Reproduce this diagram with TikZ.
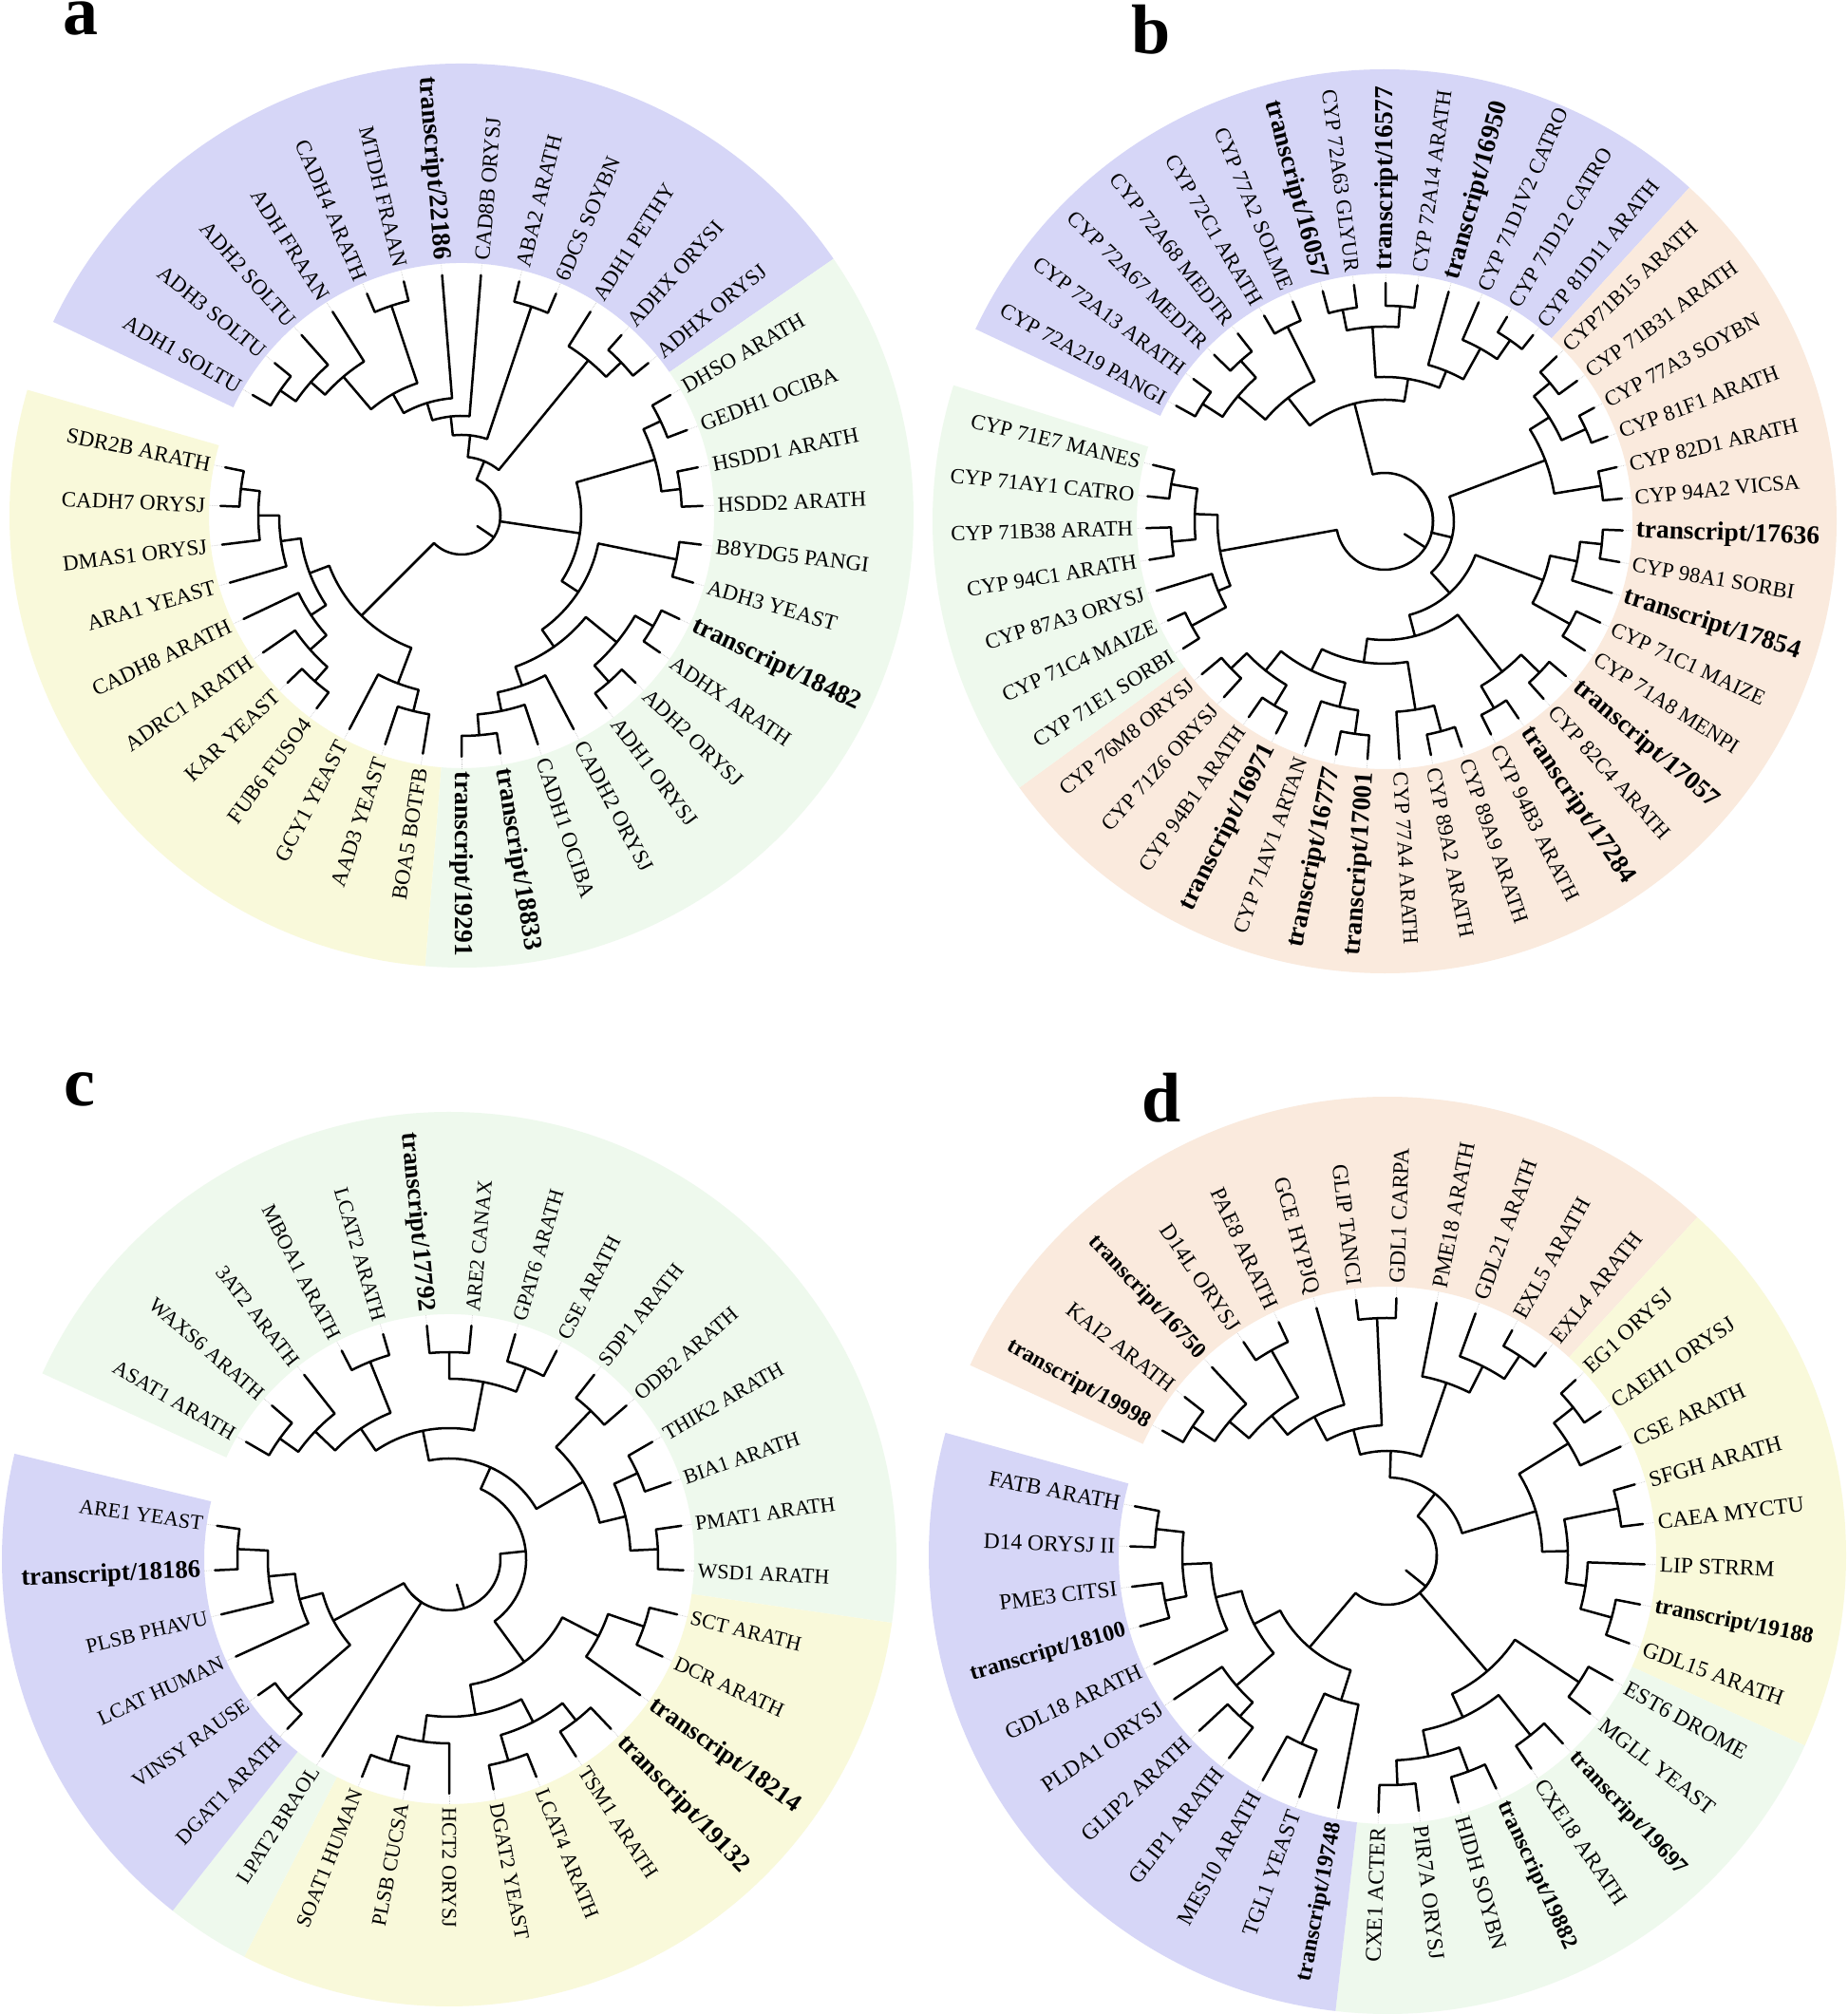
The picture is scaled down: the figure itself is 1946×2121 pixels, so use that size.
\documentclass[tikz,border=0pt]{standalone}
\usepackage{fontspec}
\setmainfont{Liberation Serif}
\usetikzlibrary{calc}

\definecolor{purpband}{RGB}{214,214,247}
\definecolor{greenband}{RGB}{238,249,237}
\definecolor{yellowband}{RGB}{249,249,218}
\definecolor{peachband}{RGB}{250,234,221}

\tikzset{
  branch/.style={line width=2.5pt, line cap=round, line join=round, black},
  conn/.style={gray!40, line width=0.7pt, densely dotted},
  lab/.style={inner sep=0pt, outer sep=0pt, font=\fontsize{\rsz}{\rsz}\selectfont},
  letter/.style={anchor=base, inner sep=0pt, text depth=0pt, font=\fontsize{74}{80}\selectfont\bfseries},
  lowletter/.style={letter, text height=0.48em}
}

\newcommand\bt{\fontsize{\bsz}{\bsz}\selectfont\bfseries}

% leaf: id, slot, text
\newcommand\lf[3]{%
  \pgfmathsetmacro\lfang{\thz-#2*\dth}%
  \expandafter\xdef\csname A@#1\endcsname{\lfang}%
  \expandafter\xdef\csname R@#1\endcsname{\rtip}%
  \draw[conn] (\lfang:\rtip) -- (\lfang:\rin);%
  \pgfmathparse{cos(\lfang)<-0.001 ? 1 : 0}%
  \ifdim\pgfmathresult pt>0.5pt
    \pgfmathsetmacro\lfrot{\lfang-180}%
    \node[lab, rotate=\lfrot, anchor=east] (#1) at (\lfang:\rlab) {#3};%
  \else
    \node[lab, rotate=\lfang, anchor=west] (#1) at (\lfang:\rlab) {#3};%
  \fi}

% inner node: id, radius, child, child
\newcommand\nd[4]{%
  \edef\ndta{\csname A@#3\endcsname}\edef\ndra{\csname R@#3\endcsname}%
  \edef\ndtb{\csname A@#4\endcsname}\edef\ndrb{\csname R@#4\endcsname}%
  \draw[branch] (\ndta:\ndra) -- (\ndta:#2) arc[start angle=\ndta, end angle=\ndtb, radius=#2pt] -- (\ndtb:\ndrb);%
  \pgfmathsetmacro\ndtm{(\ndta+\ndtb)/2}%
  \coordinate (#1) at (\ndtm:#2);%
  \expandafter\xdef\csname A@#1\endcsname{\ndtm}%
  \expandafter\xdef\csname R@#1\endcsname{#2}}

% root stub between two outer children
\newcommand\stub[4]{%
  \pgfmathsetmacro\ndtm{(\csname A@#1\endcsname+\csname A@#2\endcsname)/2}%
  \draw[branch] (\ndtm:#3) -- (\ndtm:#4);}

% coloured label band: colour, first slot, last slot
\newcommand\band[3]{%
  \pgfmathsetmacro\bda{\thz-(#2-0.5)*\dth}%
  \pgfmathsetmacro\bdb{\thz-(#3+0.5)*\dth}%
  \fill[#1] (\bda:\rin) arc[start angle=\bda, end angle=\bdb, radius=\rin pt] -- (\bdb:\rout) arc[start angle=\bdb, end angle=\bda, radius=\rout pt] -- cycle;}

\begin{document}
\begin{tikzpicture}[x=1pt, y=1pt]
  \fill[white] (0,0) rectangle (1946,2121);
  \useasboundingbox (0,0) rectangle (1946,2121);

  \node[lowletter] (la) at (85,2084) {a};
  \node[letter] (lb) at (1212,2064) {b};
  \node[lowletter] (lc) at (84,956) {c};
  \node[letter] (ld) at (1223,939) {d};

  % ---------------- a ----------------
  \begin{scope}[shift={(486,1578)}]
    \def\thz{150}\def\dth{9.230769}\def\rtip{254}\def\rlab{270}\def\rin{266}\def\rout{476}
    \def\rsz{23}\def\bsz{27.5}
    \band{purpband}{0}{12}
    \band{greenband}{13}{26}
    \band{yellowband}{27}{37}
    \lf{a0}{0}{ADH1 SOLTU}
    \lf{a1}{1}{ADH3 SOLTU}
    \lf{a2}{2}{ADH2 SOLTU}
    \lf{a3}{3}{ADH FRAAN}
    \lf{a4}{4}{CADH4 ARATH}
    \lf{a5}{5}{MTDH FRAAN}
    \lf{a6}{6}{\bt transcript/22186}
    \lf{a7}{7}{CAD8B ORYSJ}
    \lf{a8}{8}{ABA2 ARATH}
    \lf{a9}{9}{6DCS SOYBN}
    \lf{a10}{10}{ADH1 PETHY}
    \lf{a11}{11}{ADHX ORYSI}
    \lf{a12}{12}{ADHX ORYSJ}
    \lf{a13}{13}{DHSO ARATH}
    \lf{a14}{14}{GEDH1 OCIBA}
    \lf{a15}{15}{HSDD1 ARATH}
    \lf{a16}{16}{HSDD2 ARATH}
    \lf{a17}{17}{B8YDG5 PANGI}
    \lf{a18}{18}{ADH3 YEAST}
    \lf{a19}{19}{\bt transcript/18482}
    \lf{a20}{20}{ADHX ARATH}
    \lf{a21}{21}{ADH2 ORYSJ}
    \lf{a22}{22}{ADH1 ORYSJ}
    \lf{a23}{23}{CADH2 ORYSJ}
    \lf{a24}{24}{CADH1 OCIBA}
    \lf{a25}{25}{\bt transcript/18833}
    \lf{a26}{26}{\bt transcript/19291}
    \lf{a27}{27}{BOA5 BOTFB}
    \lf{a28}{28}{AAD3 YEAST}
    \lf{a29}{29}{GCY1 YEAST}
    \lf{a30}{30}{FUB6 FUSO4}
    \lf{a31}{31}{KAR YEAST}
    \lf{a32}{32}{ADRC1 ARATH}
    \lf{a33}{33}{CADH8 ARATH}
    \lf{a34}{34}{ARA1 YEAST}
    \lf{a35}{35}{DMAS1 ORYSJ}
    \lf{a36}{36}{CADH7 ORYSJ}
    \lf{a37}{37}{SDR2B ARATH}
    \nd{a-1}{232}{a0}{a1}
    \nd{a-2}{212}{a-1}{a2}
    \nd{a-3}{192}{a-2}{a3}
    \nd{a-4}{233}{a4}{a5}
    \nd{a-5}{147}{a-3}{a-4}
    \nd{a-6}{124}{a-5}{a6}
    \nd{a-7}{105}{a-6}{a7}
    \nd{a-8}{232}{a8}{a9}
    \nd{a-9}{85}{a-7}{a-8}
    \nd{a-10}{233}{a11}{a12}
    \nd{a-11}{211}{a10}{a-10}
    \nd{a-12}{62}{a-9}{a-11}
    \nd{a-13}{232}{a13}{a14}
    \nd{a-14}{232}{a15}{a16}
    \nd{a-15}{212}{a-13}{a-14}
    \nd{a-16}{231}{a17}{a18}
    \nd{a-17}{233}{a19}{a20}
    \nd{a-18}{234}{a21}{a22}
    \nd{a-19}{211}{a-17}{a-18}
    \nd{a-20}{232}{a25}{a26}
    \nd{a-21}{210}{a24}{a-20}
    \nd{a-22}{190}{a23}{a-21}
    \nd{a-23}{169}{a-19}{a-22}
    \nd{a-24}{147}{a-16}{a-23}
    \nd{a-25}{126}{a-15}{a-24}
    \nd{a-26}{234}{a36}{a37}
    \nd{a-27}{214}{a35}{a-26}
    \nd{a-28}{192}{a34}{a-27}
    \nd{a-30}{233}{a30}{a31}
    \nd{a-31}{213}{a32}{a-30}
    \nd{a-29}{190}{a33}{a-31}
    \nd{a-32}{171}{a-28}{a-29}
    \nd{a-33}{212}{a27}{a28}
    \nd{a-34}{189}{a29}{a-33}
    \nd{a-35}{149}{a-34}{a-32}
    \nd{a-36}{41}{a-12}{a-25}
    \nd{a-37}{41}{a-36}{a-35}
    \stub{a-12}{a-35}{20}{41}
  \end{scope}

  % ---------------- b ----------------
  \begin{scope}[shift={(1458,1572)}]
    \def\thz{151}\def\dth{7.659574}\def\rtip{251}\def\rlab{265}\def\rin{261}\def\rout{476}
    \def\rsz{22.7}\def\bsz{27.4}
    \band{purpband}{0}{13}
    \band{peachband}{14}{38}
    \band{greenband}{39}{45}
    \lf{b0}{0}{CYP 72A219 PANGI}
    \lf{b1}{1}{CYP 72A13 ARATH}
    \lf{b2}{2}{CYP 72A67 MEDTR}
    \lf{b3}{3}{CYP 72A68 MEDTR}
    \lf{b4}{4}{CYP 72C1 ARATH}
    \lf{b5}{5}{CYP 77A2 SOLME}
    \lf{b6}{6}{\bt transcript/16057}
    \lf{b7}{7}{CYP 72A63 GLYUR}
    \lf{b8}{8}{\bt transcript/16577}
    \lf{b9}{9}{CYP 72A14 ARATH}
    \lf{b10}{10}{\bt transcript/16950}
    \lf{b11}{11}{CYP 71D1V2 CATRO}
    \lf{b12}{12}{CYP 71D12 CATRO}
    \lf{b13}{13}{CYP 81D11 ARATH}
    \lf{b14}{14}{CYP71B15 ARATH}
    \lf{b15}{15}{CYP 71B31 ARATH}
    \lf{b16}{16}{CYP 77A3 SOYBN}
    \lf{b17}{17}{CYP 81F1 ARATH}
    \lf{b18}{18}{CYP 82D1 ARATH}
    \lf{b19}{19}{CYP 94A2 VICSA}
    \lf{b20}{20}{\bt transcript/17636}
    \lf{b21}{21}{CYP 98A1 SORBI}
    \lf{b22}{22}{\bt transcript/17854}
    \lf{b23}{23}{CYP 71C1 MAIZE}
    \lf{b24}{24}{CYP 71A8 MENPI}
    \lf{b25}{25}{\bt transcript/17057}
    \lf{b26}{26}{CYP 82C4 ARATH}
    \lf{b27}{27}{\bt transcript/17284}
    \lf{b28}{28}{CYP 94B3 ARATH}
    \lf{b29}{29}{CYP 89A9 ARATH}
    \lf{b30}{30}{CYP 89A2 ARATH}
    \lf{b31}{31}{CYP 77A4 ARATH}
    \lf{b32}{32}{\bt transcript/17001}
    \lf{b33}{33}{\bt transcript/16777}
    \lf{b34}{34}{CYP 71AV1 ARTAN}
    \lf{b35}{35}{\bt transcript/16971}
    \lf{b36}{36}{CYP 94B1 ARATH}
    \lf{b37}{37}{CYP 71Z6 ORYSJ}
    \lf{b38}{38}{CYP 76M8 ORYSJ}
    \lf{b39}{39}{CYP 71E1 SORBI}
    \lf{b40}{40}{CYP 71C4 MAIZE}
    \lf{b41}{41}{CYP 87A3 ORYSJ}
    \lf{b42}{42}{CYP 94C1 ARATH}
    \lf{b43}{43}{CYP 71B38 ARATH}
    \lf{b44}{44}{CYP 71AY1 CATRO}
    \lf{b45}{45}{CYP 71E7 MANES}
    \nd{b-1}{228}{b0}{b1}
    \nd{b-2}{227}{b2}{b3}
    \nd{b-3}{203}{b-1}{b-2}
    \nd{b-4}{229}{b4}{b5}
    \nd{b-5}{165}{b-3}{b-4}
    \nd{b-6}{227}{b6}{b7}
    \nd{b-7}{227}{b8}{b9}
    \nd{b-8}{205}{b-6}{b-7}
    \nd{b-9}{232}{b12}{b13}
    \nd{b-10}{208}{b11}{b-9}
    \nd{b-11}{171}{b10}{b-10}
    \nd{b-12}{152}{b-8}{b-11}
    \nd{b-13}{128}{b-5}{b-12}
    \nd{b-14}{227}{b14}{b15}
    \nd{b-15}{233}{b16}{b17}
    \nd{b-16}{205}{b-14}{b-15}
    \nd{b-17}{231}{b18}{b19}
    \nd{b-18}{181}{b-16}{b-17}
    \nd{b-19}{230}{b20}{b21}
    \nd{b-20}{207}{b-19}{b22}
    \nd{b-21}{223}{b23}{b24}
    \nd{b-22}{178}{b-20}{b-21}
    \nd{b-23}{228}{b25}{b26}
    \nd{b-24}{228}{b27}{b28}
    \nd{b-25}{201}{b-23}{b-24}
    \nd{b-26}{229}{b29}{b30}
    \nd{b-27}{201}{b31}{b-26}
    \nd{b-28}{226}{b32}{b33}
    \nd{b-29}{201}{b34}{b-28}
    \nd{b-30}{226}{b35}{b36}
    \nd{b-31}{224}{b37}{b38}
    \nd{b-32}{201}{b-30}{b-31}
    \nd{b-33}{175}{b-29}{b-32}
    \nd{b-34}{150}{b-33}{b-27}
    \nd{b-35}{125}{b-25}{b-34}
    \nd{b-36}{102}{b-22}{b-35}
    \nd{b-37}{73}{b-18}{b-36}
    \nd{b-38}{228}{b44}{b45}
    \nd{b-39}{225}{b42}{b43}
    \nd{b-40}{200}{b-38}{b-39}
    \nd{b-41}{231}{b39}{b40}
    \nd{b-42}{190}{b41}{b-41}
    \nd{b-43}{176}{b-40}{b-42}
    \nd{b-44}{51}{b-13}{b-37}
    \nd{b-45}{51}{b-44}{b-43}
    \stub{b-13}{b-43}{25}{51}
  \end{scope}

  % ---------------- c ----------------
  \begin{scope}[shift={(473,479)}]
    \def\thz{150}\def\dth{10.909091}\def\rtip{247}\def\rlab{262}\def\rin{258}\def\rout{471}
    \def\rsz{22}\def\bsz{26.8}
    \band{greenband}{0}{14}
    \band{yellowband}{15}{24}
    \band{greenband}{25}{25}
    \band{purpband}{26}{31}
    \lf{c0}{0}{ASAT1 ARATH}
    \lf{c1}{1}{WAXS6 ARATH}
    \lf{c2}{2}{3AT2 ARATH}
    \lf{c3}{3}{MBOA1 ARATH}
    \lf{c4}{4}{LCAT2 ARATH}
    \lf{c5}{5}{\bt transcript/17792}
    \lf{c6}{6}{ARE2 CANAX}
    \lf{c7}{7}{GPAT6 ARATH}
    \lf{c8}{8}{CSE ARATH}
    \lf{c9}{9}{SDP1 ARATH}
    \lf{c10}{10}{ODB2 ARATH}
    \lf{c11}{11}{THIK2 ARATH}
    \lf{c12}{12}{BIA1 ARATH}
    \lf{c13}{13}{PMAT1 ARATH}
    \lf{c14}{14}{WSD1 ARATH}
    \lf{c15}{15}{SCT ARATH}
    \lf{c16}{16}{DCR ARATH}
    \lf{c17}{17}{\bt transcript/18214}
    \lf{c18}{18}{\bt transcript/19132}
    \lf{c19}{19}{TSM1 ARATH}
    \lf{c20}{20}{LCAT4 ARATH}
    \lf{c21}{21}{DGAT2 YEAST}
    \lf{c22}{22}{HCT2 ORYSJ}
    \lf{c23}{23}{PLSB CUCSA}
    \lf{c24}{24}{SOAT1 HUMAN}
    \lf{c25}{25}{LPAT2 BRAOL}
    \lf{c26}{26}{DGAT1 ARATH}
    \lf{c27}{27}{VINSY RAUSE}
    \lf{c28}{28}{LCAT HUMAN}
    \lf{c29}{29}{PLSB PHAVU}
    \lf{c30}{30}{\bt transcript/18186}
    \lf{c31}{31}{ARE1 YEAST}
    \nd{c-1}{223}{c30}{c31}
    \nd{c-2}{191}{c29}{c-1}
    \nd{c-3}{163}{c-2}{c28}
    \nd{c-4}{225}{c26}{c27}
    \nd{c-5}{138}{c-3}{c-4}
    \nd{c-6}{217}{c15}{c16}
    \nd{c-7}{177}{c-6}{c17}
    \nd{c-8}{222}{c23}{c24}
    \nd{c-9}{194}{c-8}{c22}
    \nd{c-10}{216}{c18}{c19}
    \nd{c-11}{221}{c20}{c21}
    \nd{c-12}{193}{c-10}{c-11}
    \nd{c-13}{166}{c-9}{c-12}
    \nd{c-14}{134}{c-7}{c-13}
    \nd{c-15}{219}{c0}{c1}
    \nd{c-16}{195}{c-15}{c2}
    \nd{c-17}{224}{c3}{c4}
    \nd{c-18}{166}{c-16}{c-17}
    \nd{c-19}{218}{c5}{c6}
    \nd{c-20}{217}{c7}{c8}
    \nd{c-21}{190}{c-19}{c-20}
    \nd{c-22}{138}{c-18}{c-21}
    \nd{c-23}{216}{c9}{c10}
    \nd{c-24}{218}{c11}{c12}
    \nd{c-25}{220}{c13}{c14}
    \nd{c-26}{191}{c-24}{c-25}
    \nd{c-27}{163}{c-23}{c-26}
    \nd{c-28}{106}{c-22}{c-27}
    \nd{c-29}{81}{c-28}{c-14}
    \nd{c-30}{54}{c-5}{c25}
    \nd{c-31}{54}{c-30}{c-29}
    \stub{c-5}{c-29}{28}{54}
  \end{scope}

  % ---------------- d ----------------
  \begin{scope}[shift={(1461,483)}]
    \def\thz{151}\def\dth{9}\def\rtip{271}\def\rlab{287}\def\rin{283}\def\rout{483}
    \def\rsz{23.5}\def\bsz{24}
    \band{peachband}{0}{11}
    \band{yellowband}{12}{19}
    \band{greenband}{20}{27}
    \band{purpband}{28}{38}
    \lf{d0}{0}{\bt transcript/19998}
    \lf{d1}{1}{KAI2 ARATH}
    \lf{d2}{2}{\bt transcript/16750}
    \lf{d3}{3}{D14L ORYSJ}
    \lf{d4}{4}{PAE8 ARATH}
    \lf{d5}{5}{GCE HYPJQ}
    \lf{d6}{6}{GLIP TANCI}
    \lf{d7}{7}{GDL1 CARPA}
    \lf{d8}{8}{PME18 ARATH}
    \lf{d9}{9}{GDL21 ARATH}
    \lf{d10}{10}{EXL5 ARATH}
    \lf{d11}{11}{EXL4 ARATH}
    \lf{d12}{12}{EG1 ORYSJ}
    \lf{d13}{13}{CAEH1 ORYSJ}
    \lf{d14}{14}{CSE ARATH}
    \lf{d15}{15}{SFGH ARATH}
    \lf{d16}{16}{CAEA MYCTU}
    \lf{d17}{17}{LIP STRRM}
    \lf{d18}{18}{\bt transcript/19188}
    \lf{d19}{19}{GDL15 ARATH}
    \lf{d20}{20}{EST6 DROME}
    \lf{d21}{21}{MGLL YEAST}
    \lf{d22}{22}{\bt transcript/19697}
    \lf{d23}{23}{CXE18 ARATH}
    \lf{d24}{24}{\bt transcript/19882}
    \lf{d25}{25}{HIDH SOYBN}
    \lf{d26}{26}{PIR7A ORYSJ}
    \lf{d27}{27}{CXE1 ACTER}
    \lf{d28}{28}{\bt transcript/19748}
    \lf{d29}{29}{TGL1 YEAST}
    \lf{d30}{30}{MES10 ARATH}
    \lf{d31}{31}{GLIP1 ARATH}
    \lf{d32}{32}{GLIP2 ARATH}
    \lf{d33}{33}{PLDA1 ORYSJ}
    \lf{d34}{34}{GDL18 ARATH}
    \lf{d35}{35}{\bt transcript/18100}
    \lf{d36}{36}{PME3 CITSI}
    \lf{d37}{37}{D14 ORYSJ II}
    \lf{d38}{38}{FATB ARATH}
    \nd{d-1}{246}{d0}{d1}
    \nd{d-2}{218}{d-1}{d2}
    \nd{d-3}{248}{d3}{d4}
    \nd{d-4}{191}{d-2}{d-3}
    \nd{d-5}{165}{d-4}{d5}
    \nd{d-6}{250}{d6}{d7}
    \nd{d-7}{137}{d-5}{d-6}
    \nd{d-8}{252}{d10}{d11}
    \nd{d-9}{223}{d9}{d-8}
    \nd{d-10}{192}{d8}{d-9}
    \nd{d-11}{110}{d-7}{d-10}
    \nd{d-12}{250}{d12}{d13}
    \nd{d-13}{224}{d-12}{d14}
    \nd{d-14}{248}{d15}{d16}
    \nd{d-15}{245}{d18}{d19}
    \nd{d-16}{211}{d17}{d-15}
    \nd{d-17}{190}{d-14}{d-16}
    \nd{d-18}{163}{d-13}{d-17}
    \nd{d-19}{82}{d-11}{d-18}
    \nd{d-20}{242}{d20}{d21}
    \nd{d-21}{242}{d22}{d23}
    \nd{d-22}{243}{d24}{d25}
    \nd{d-23}{242}{d26}{d27}
    \nd{d-24}{216}{d-22}{d-23}
    \nd{d-25}{188}{d-21}{d-24}
    \nd{d-26}{161}{d-20}{d-25}
    \nd{d-27}{218}{d29}{d30}
    \nd{d-28}{160}{d-27}{d28}
    \nd{d-29}{245}{d37}{d38}
    \nd{d-30}{239}{d35}{d36}
    \nd{d-31}{216}{d-29}{d-30}
    \nd{d-32}{186}{d-31}{d34}
    \nd{d-33}{230}{d31}{d32}
    \nd{d-34}{210}{d33}{d-33}
    \nd{d-35}{158}{d-32}{d-34}
    \nd{d-36}{127}{d-35}{d-28}
    \nd{d-37}{52}{d-19}{d-26}
    \nd{d-38}{52}{d-37}{d-36}
    \stub{d-19}{d-36}{25}{52}
  \end{scope}
\end{tikzpicture}
\end{document}
